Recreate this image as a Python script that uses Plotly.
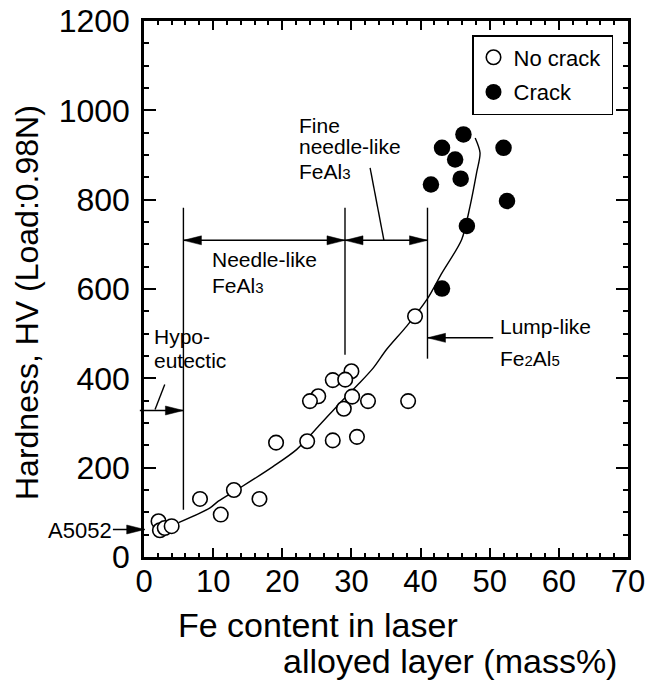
import plotly.graph_objects as go

# ---------------- data ----------------
nocrack_fe = [39.2, 30.0, 27.3, 29.1, 25.2, 24.0, 30.1, 32.4, 38.2, 28.9,
              19.1, 23.6, 27.3, 30.8, 8.1, 13.0, 16.7, 11.1, 2.1, 2.3, 3.0, 4.0]
nocrack_hv = [539, 416, 396, 397, 360, 349, 359, 349, 349, 332,
              256, 259, 261, 269, 130, 150, 130, 95, 80, 60, 65, 69]

crack_fe = [46.2, 43.1, 52.0, 45.0, 45.8, 41.5, 52.5, 46.7, 43.1]
crack_hv = [946, 916, 916, 890, 847, 834, 797, 741, 601]

trend_fe = [5.0, 9.55, 10.75, 13.9, 18.7, 22.1, 25.5, 28.35, 31.2, 33.2,
            35.1, 38.0, 40.9, 43.1, 45.95, 47.15, 48.1, 48.6, 47.9]
trend_hv = [77, 110, 125, 155, 203, 241, 297, 345, 390, 424,
            465, 517, 576, 636, 711, 785, 860, 905, 938]

x_ticks = [0, 10, 20, 30, 40, 50, 60, 70]
y_ticks = [0, 200, 400, 600, 800, 1000, 1200]

XMAX, YMAX = 70, 1200
FONT = "Liberation Sans, Arial, sans-serif"
W, H = 659, 685
ML, MR, MT, MB = 144, 31, 21, 128
PW, PH = W - ML - MR, H - MT - MB
NB = "\u00a0"


def px(x):
    return x / XMAX


def py(y):
    return y / YMAX


fig = go.Figure()
fig.add_trace(go.Scatter(x=trend_fe, y=trend_hv, mode="lines",
                         line=dict(color="black", width=1.4, shape="spline", smoothing=0.8),
                         showlegend=False, hoverinfo="skip"))
fig.add_trace(go.Scatter(x=nocrack_fe, y=nocrack_hv, mode="markers", name="No crack" + NB,
                         legendgroup="a",
                         marker=dict(symbol="circle", size=14.5, color="white",
                                     line=dict(color="black", width=1.6))))
fig.add_trace(go.Scatter(x=crack_fe, y=crack_hv, mode="markers", name="Crack",
                         legendgroup="b",
                         marker=dict(symbol="circle", size=16.5, color="black",
                                     line=dict(color="black", width=0))))

shapes = []
LW = 1.4


def line(x0, y0, x1, y1):
    shapes.append(dict(type="line", xref="paper", yref="paper",
                       x0=px(x0), y0=py(y0), x1=px(x1), y1=py(y1),
                       line=dict(color="black", width=LW), layer="above"))


def head(xt, yt, d):
    # filled arrow head, tip at (xt, yt), pointing right (d=1) or left (d=-1)
    L = 18 / PW  # paper units
    Hh = 4.5 / PH
    xt_p, yt_p = px(xt), py(yt)
    xb = xt_p - d * L
    shapes.append(dict(type="path", xref="paper", yref="paper",
                       path=f"M {xt_p},{yt_p} L {xb},{yt_p + Hh} L {xb},{yt_p - Hh} Z",
                       fillcolor="black", line=dict(color="black", width=0.5), layer="above"))


# vertical phase boundaries
line(5.7, 106, 5.7, 782)
line(29.07, 453, 29.07, 782)
line(41.0, 444, 41.0, 782)
# double arrows
line(5.7, 709, 29.07, 709)
line(29.07, 709, 41.0, 709)
head(5.7, 709, -1)
head(29.07, 709, 1)
head(29.07, 709, -1)
head(41.0, 709, 1)
# fine needle leader
line(32.7, 871, 34.7, 709)
# hypo-eutectic arrow and leader
line(-0.6, 328, 5.7, 328)
head(5.7, 328, 1)
line(3.0, 386, 1.6, 330)
# lump-like arrow
line(41.0, 490.7, 50.5, 490.7)
head(41.0, 490.7, -1)
# A5052 arrow
line(-4.5, 61.6, 0.1, 61.6)
head(0.1, 61.6, 1)

annotations = []


def txt(text, xpix, ypix, size=21, anchor="left"):
    annotations.append(dict(text=text, xref="paper", yref="paper",
                            x=(xpix - ML) / PW, y=(MT + PH - ypix) / PH,
                            xanchor=anchor, yanchor="middle", showarrow=False,
                            font=dict(family=FONT, size=size, color="black")))


sub = lambda s: f"<span style='font-size:15px'>{s}</span>"

txt("Fine", 297, 125)
txt("needle-like", 297, 147)
txt("FeAl" + sub("3"), 297, 171)
txt("Needle-like", 210, 259)
txt("FeAl" + sub("3"), 210, 285)
txt("Hypo-", 152, 336)
txt("eutectic", 152, 361)
txt("Lump-like", 498, 327)
txt("Fe" + sub("2") + "Al" + sub("5"), 498, 358)
txt("A5052", 114, 530.5, size=22, anchor="right")

# axis titles
txt("Fe content in laser", 176, 625, size=34)
txt("alloyed layer (mass%)", 281, 661, size=34)
annotations.append(dict(text="Hardness, HV (Load:0.98N)", xref="paper", yref="paper",
                        x=(27 - ML) / PW, y=(MT + PH - 303) / PH, textangle=-90,
                        xanchor="center", yanchor="middle", showarrow=False,
                        font=dict(family=FONT, size=32, color="black")))

fig.update_layout(
    template="none",
    width=W, height=H, margin=dict(l=ML, r=MR, t=MT, b=MB, autoexpand=False),
    paper_bgcolor="white", plot_bgcolor="white",
    font=dict(family=FONT, color="black"),
    shapes=shapes, annotations=annotations,
    legend=dict(x=(472 - ML) / PW, y=(MT + PH - 35) / PH, xanchor="left", yanchor="top",
                bordercolor="black", borderwidth=1.5, bgcolor="white",
                font=dict(family=FONT, size=22, color="black"),
                tracegroupgap=3, traceorder="grouped"),
    xaxis=dict(range=[0, XMAX], tickvals=x_ticks, ticks="inside", ticklen=9, tickwidth=2,
               tickcolor="black", showline=True, linewidth=2.5, linecolor="black",
               mirror="allticks", showgrid=False, zeroline=False, automargin=False,
               tickfont=dict(family=FONT, size=31, color="black"), ticklabelstandoff=-5,
               minor=dict(dtick=2, ticks="inside", ticklen=4, tickwidth=1.5, tickcolor="black",
                          showgrid=False)),
    yaxis=dict(range=[0, YMAX], tickvals=y_ticks, ticks="inside", ticklen=12, tickwidth=2,
               tickcolor="black", showline=True, linewidth=2.5, linecolor="black",
               mirror="allticks", showgrid=False, zeroline=False, automargin=False,
               tickfont=dict(family=FONT, size=32, color="black"), ticklabelstandoff=5,
               minor=dict(dtick=50, ticks="inside", ticklen=5, tickwidth=1.5, tickcolor="black",
                          showgrid=False)),
)

fig.write_html("out.html", config={"displayModeBar": False},
               post_script="document.body.style.margin='0px';document.body.style.overflow='hidden';")
